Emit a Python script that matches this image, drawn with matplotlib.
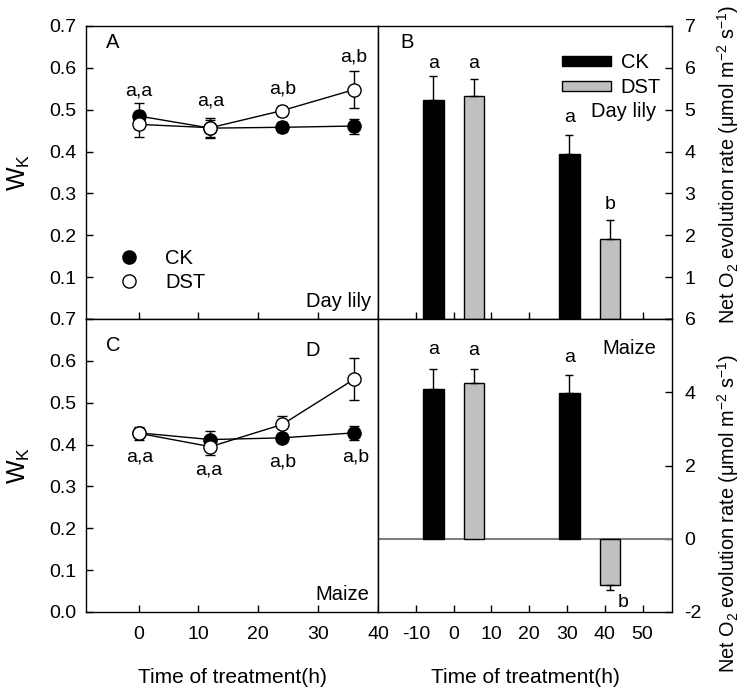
import numpy as np
import matplotlib
matplotlib.use("Agg")
import matplotlib.pyplot as plt
from matplotlib.lines import Line2D

plt.rcParams['font.family'] = ['Liberation Sans', 'DejaVu Sans']
plt.rcParams['mathtext.fontset'] = 'custom'
plt.rcParams['mathtext.rm'] = 'Liberation Sans'
plt.rcParams['mathtext.it'] = 'Liberation Sans:italic'
plt.rcParams['axes.unicode_minus'] = False

# Wk time course (h)
hours = [0, 12, 24, 36]
lily_ck = [0.485, 0.456, 0.458, 0.461]
lily_ck_err = [0.030, 0.020, 0.012, 0.018]
lily_dst = [0.465, 0.457, 0.498, 0.548]
lily_dst_err = [0.031, 0.024, 0.012, 0.044]
lily_letters = ['a,a', 'a,a', 'a,b', 'a,b']
lily_letter_x = [0, 12, 24, 36]
lily_letter_y = [0.545, 0.522, 0.549, 0.625]

maize_ck = [0.428, 0.412, 0.416, 0.428]
maize_ck_err = [0.010, 0.020, 0.007, 0.017]
maize_dst = [0.427, 0.395, 0.448, 0.556]
maize_dst_err = [0.015, 0.020, 0.021, 0.050]
maize_letters = ['a,a', 'a,a', 'a,b', 'a,b']
maize_letter_x = [0.2, 11.7, 24.1, 36.3]
maize_letter_y = [0.370, 0.339, 0.359, 0.371]

# Net O2 evolution rate bars
bar_groups = [0, 36]
lily_o2_ck = [5.23, 3.94]
lily_o2_ck_err = [0.58, 0.46]
lily_o2_dst = [5.33, 1.90]
lily_o2_dst_err = [0.40, 0.46]
lily_o2_letters = ['a', 'a', 'a', 'b']
lily_o2_letter_y = [5.91, 5.91, 4.61, 2.53]

maize_o2_ck = [4.09, 3.97]
maize_o2_ck_err = [0.55, 0.50]
maize_o2_dst = [4.24, -1.26]
maize_o2_dst_err = [0.40, 0.15]
maize_o2_letters = ['a', 'a', 'a', 'b']
maize_o2_letter_y = [4.94, 4.90, 4.72, -1.75]

fig = plt.figure(figsize=(7.47, 6.91), dpi=100)
lw = 1.0
tick_fs = 14
ann_fs = 14
txt_fs = 14.5
ms = 9.5

left_x, left_w = 86 / 747, 292 / 747
right_x, right_w = 378 / 747, 294 / 747
top_y, bot_y, h = (691 - 319) / 691, (691 - 612) / 691, 293 / 691

axA = fig.add_axes([left_x, top_y, left_w, h])
axC = fig.add_axes([left_x, bot_y, left_w, h])
axB = fig.add_axes([right_x, top_y, right_w, h])
axD = fig.add_axes([right_x, bot_y, right_w, h])


def line_panel(ax, ck, ck_err, dst, dst_err, letters, lx, ly, show_x):
    ax.errorbar(hours, ck, yerr=ck_err, color='black', lw=lw, marker='o',
                ms=ms, mfc='black', mec='black', capsize=3.5, elinewidth=lw,
                capthick=lw, zorder=3)
    ax.errorbar(hours, dst, yerr=dst_err, color='black', lw=lw, marker='o',
                ms=ms, mfc='white', mec='black', capsize=3.5, elinewidth=lw,
                capthick=lw, zorder=4)
    for t, x, y in zip(letters, lx, ly):
        ax.text(x, y, t, ha='center', va='center', fontsize=ann_fs)
    ax.set_xlim(-8.8, 40)
    ax.set_ylim(0, 0.7)
    ax.set_xticks([0, 10, 20, 30, 40])
    ax.set_yticks(np.arange(0, 0.71, 0.1))
    ax.tick_params(direction='in', labelsize=tick_fs, length=5, width=lw,
                   right=False, top=False)
    if not show_x:
        ax.set_xticklabels([])
        ax.set_yticklabels(['', '0.1', '0.2', '0.3', '0.4', '0.5', '0.6', '0.7'])
    else:
        ax.set_xticklabels(['0', '10', '20', '30', '40'])
        ax.set_yticklabels(['0.0', '0.1', '0.2', '0.3', '0.4', '0.5', '0.6', '0.7'])
    ax.tick_params(axis='x', pad=10)
    ax.tick_params(axis='y', pad=7)
    ax.set_ylabel('W$_\\mathrm{K}$', fontsize=18, labelpad=12)
    for s in ax.spines.values():
        s.set_linewidth(lw)


line_panel(axA, lily_ck, lily_ck_err, lily_dst, lily_dst_err,
           lily_letters, lily_letter_x, lily_letter_y, False)
line_panel(axC, maize_ck, maize_ck_err, maize_dst, maize_dst_err,
           maize_letters, maize_letter_x, maize_letter_y, True)

handles = [Line2D([], [], ls='none', marker='o', ms=ms, mfc='black', mec='black'),
           Line2D([], [], ls='none', marker='o', ms=ms, mfc='white', mec='black')]
axA.legend(handles, ['CK', 'DST'], loc='lower left', bbox_to_anchor=(0.085, 0.065),
           frameon=False, fontsize=txt_fs, handlelength=1.0, handletextpad=1.3,
           labelspacing=0.25, borderaxespad=0)
axA.text(0.07, 0.925, 'A', transform=axA.transAxes, fontsize=txt_fs)
axA.text(0.975, 0.04, 'Day lily', transform=axA.transAxes, fontsize=txt_fs, ha='right')
axC.text(0.07, 0.89, 'C', transform=axC.transAxes, fontsize=txt_fs)
axC.text(0.75, 0.875, 'D', transform=axC.transAxes, fontsize=txt_fs)
axC.text(0.97, 0.04, 'Maize', transform=axC.transAxes, fontsize=txt_fs, ha='right')
axC.set_xlabel('Time of treatment(h)', fontsize=15, labelpad=18)

bw = 5.5
off = 5.4


def bar_panel(ax, ck, ck_err, dst, dst_err, letters, ly):
    xs_ck = [g - off for g in bar_groups]
    xs_dst = [g + off for g in bar_groups]
    up_ck = [[0 if v >= 0 else e for v, e in zip(ck, ck_err)],
             [e if v >= 0 else 0 for v, e in zip(ck, ck_err)]]
    up_dst = [[0 if v >= 0 else e for v, e in zip(dst, dst_err)],
              [e if v >= 0 else 0 for v, e in zip(dst, dst_err)]]
    b1 = ax.bar(xs_ck, ck, width=bw, color='black', edgecolor='black', lw=lw,
                yerr=up_ck, capsize=3, error_kw=dict(elinewidth=lw, capthick=lw),
                label='CK', zorder=3)
    b2 = ax.bar(xs_dst, dst, width=bw, color='#c0c0c0', edgecolor='black', lw=lw,
                yerr=up_dst, capsize=3, error_kw=dict(elinewidth=lw, capthick=lw),
                label='DST', zorder=3)
    xs = [xs_ck[0], xs_dst[0], xs_ck[1], xs_dst[1]]
    vals = [ck[0], dst[0], ck[1], dst[1]]
    for x, v, t, y in zip(xs, vals, letters, ly):
        if v >= 0:
            ax.text(x, y, t, ha='center', va='bottom', fontsize=ann_fs)
        else:
            ax.text(x + 2.0, y, t, ha='left', va='center', fontsize=ann_fs)
    ax.set_xlim(-20, 57.8)
    ax.set_xticks([-10, 0, 10, 20, 30, 40, 50])
    ax.yaxis.tick_right()
    ax.tick_params(direction='in', labelsize=tick_fs, length=5, width=lw,
                   left=False, top=False, right=True)
    ax.tick_params(axis='x', pad=10)
    ax.tick_params(axis='y', pad=9)
    for s in ax.spines.values():
        s.set_linewidth(lw)
    return b1, b2


b1, b2 = bar_panel(axB, lily_o2_ck, lily_o2_ck_err, lily_o2_dst, lily_o2_dst_err,
                   lily_o2_letters, lily_o2_letter_y)
axB.set_ylim(0, 7)
axB.set_yticks(range(0, 8))
axB.set_yticklabels([''] + [str(i) for i in range(1, 8)])
axB.set_xticklabels([])
axB.legend([b1, b2], ['CK', 'DST'], loc='upper right', bbox_to_anchor=(0.99, 0.935),
           frameon=False, fontsize=txt_fs, handlelength=2.4, handleheight=0.45,
           handletextpad=0.5, labelspacing=0.3, borderaxespad=0)
axB.text(0.075, 0.925, 'B', transform=axB.transAxes, fontsize=txt_fs)
axB.text(0.945, 0.69, 'Day lily', transform=axB.transAxes, fontsize=txt_fs, ha='right')

bar_panel(axD, maize_o2_ck, maize_o2_ck_err, maize_o2_dst, maize_o2_dst_err,
          maize_o2_letters, maize_o2_letter_y)
axD.set_ylim(-2, 6)
axD.set_yticks([-2, 0, 2, 4, 6])
axD.set_xticklabels(['-10', '0', '10', '20', '30', '40', '50'])
axD.axhline(0, color='#808080', lw=1.5, zorder=2)
axD.text(0.945, 0.88, 'Maize', transform=axD.transAxes, fontsize=txt_fs, ha='right')
axD.set_xlabel('Time of treatment(h)', fontsize=15, labelpad=18)

ylab = 'Net O$_2$ evolution rate (\u03bcmol m$^{-2}$ s$^{-1}$)'
fig.text(728 / 747, 1 - 164 / 691, ylab, rotation=90, ha='center', va='center',
         fontsize=14.3)
fig.text(728 / 747, 1 - 513 / 691, ylab, rotation=90, ha='center', va='center',
         fontsize=14.3)

fig.savefig('out.png', dpi=100)
